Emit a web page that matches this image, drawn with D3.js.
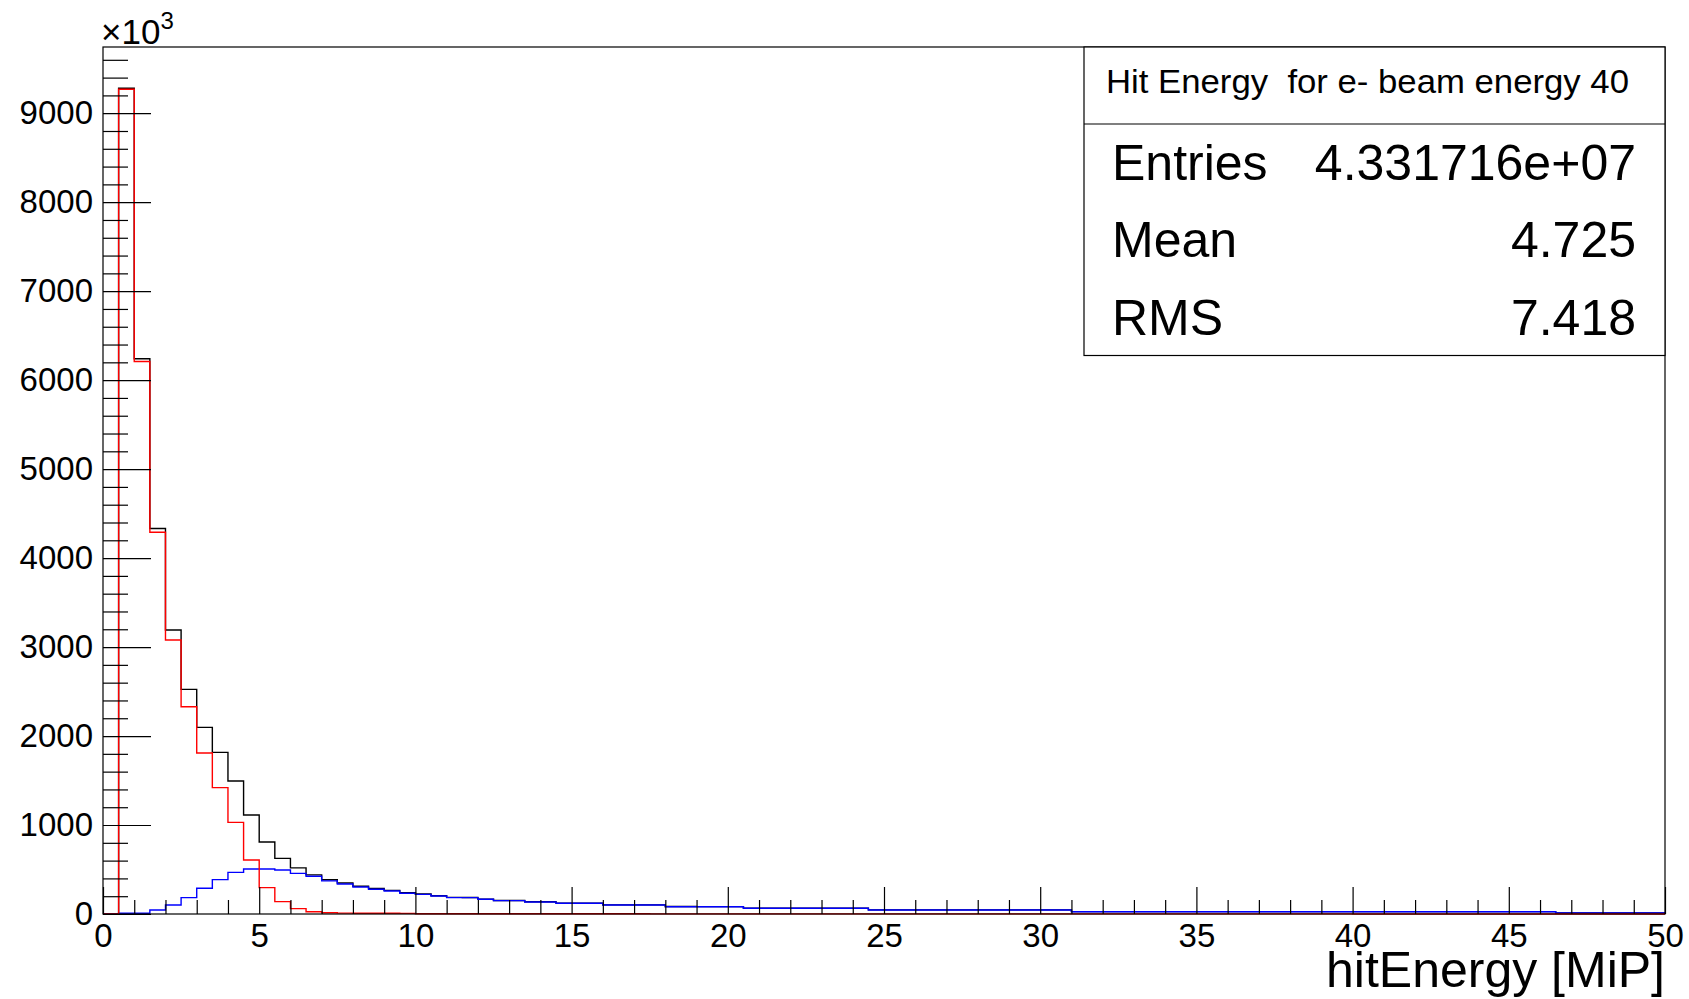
<!DOCTYPE html>
<html>
<head>
    <meta charset="UTF-8" />
    <title>hitEnergy</title>
    <script src="https://d3js.org/d3.v7.min.js"></script>
    <style>
	body { margin: 0; background: white; }
	text { font-family: "Liberation Sans", Arial, Helvetica, sans-serif; fill: #000; }
 	</style>
</head>

<body>
	<div id="chart"></div>

<script type="text/javascript">

	// histogram: 100 bins of 0.5 MiP from 0 to 50
	var binLow = 0, binWidth = 0.5, nBins = 100;

	// total (black)
	var totalHits = [0, 9280, 6240, 4333, 3191, 2525, 2097, 1817, 1494, 1112,
		810, 625, 518, 440, 385, 348, 312, 287, 266, 240,
		224, 205, 187, 186, 167, 152, 152, 137, 137, 122,
		122, 122, 103, 103, 103, 103, 84, 84, 83, 83,
		83, 66, 66, 66, 66, 66, 66, 66, 66, 46,
		46, 46, 46, 46, 46, 46, 46, 46, 46, 46,
		46, 46, 27, 27, 27, 27, 27, 27, 27, 27,
		27, 27, 27, 27, 27, 27, 27, 27, 27, 27,
		27, 27, 27, 27, 27, 27, 27, 27, 27, 27,
		27, 27, 27, 12, 12, 12, 12, 12, 12, 12]

	// red
	var redHits = [0, 9270, 6210, 4290, 3080, 2330, 1810, 1420, 1030, 607,
		296, 139, 60, 25, 14, 10, 9, 8, 8, 7,
		3, 3, 3, 2, 2, 2, 2, 2, 2, 2,
		2, 2, 2, 2, 2, 1, 1, 1, 1, 1,
		1, 1, 1, 1, 1, 1, 1, 1, 1, 1,
		1, 1, 1, 1, 1, 1, 1, 1, 1, 1,
		1, 1, 1, 1, 1, 1, 1, 1, 1, 1,
		1, 1, 1, 1, 1, 1, 1, 1, 1, 1,
		0, 0, 0, 0, 0, 0, 0, 0, 0, 0,
		0, 0, 0, 0, 0, 0, 0, 0, 0, 0]

	// blue
	var blueHits = [0, 8, 8, 45, 101, 184, 289, 386, 468, 506,
		506, 494, 457, 425, 372, 338, 303, 279, 258, 233,
		221, 202, 184, 184, 165, 150, 150, 135, 135, 120,
		120, 120, 101, 101, 101, 101, 82, 82, 82, 82,
		82, 65, 65, 65, 65, 65, 65, 65, 65, 45,
		45, 45, 45, 45, 45, 45, 45, 45, 45, 45,
		45, 45, 26, 26, 26, 26, 26, 26, 26, 26,
		26, 26, 26, 26, 26, 26, 26, 26, 26, 26,
		26, 26, 26, 26, 26, 26, 26, 26, 26, 26,
		26, 26, 26, 11, 11, 11, 11, 11, 11, 11]

	var xTicks = [0, 5, 10, 15, 20, 25, 30, 35, 40, 45, 50]
	var yTicks = [0, 1000, 2000, 3000, 4000, 5000, 6000, 7000, 8000, 9000]
	var yMax = 9744

	var statsTitle = "Hit Energy  for e- beam energy 40"
	var statsLabels = ["Entries", "Mean", "RMS"]
	var statsValues = ["4.331716e+07", "4.725", "7.418"]

	// frame in pixels
	var W = 1689, H = 999
	var margin = {top: 47, right: 24, bottom: 85, left: 103},
		width = W - margin.left - margin.right,
		height = H - margin.top - margin.bottom;

	var svg = d3.select("div#chart")
		.append("svg")
			.attr("width", W)
			.attr("height", H)
	svg.append("rect").attr("width", W).attr("height", H).attr("fill", "white")

	var g = svg.append("g")
		.attr("transform", "translate(" + margin.left + "," + margin.top + ")");

	var x = d3.scaleLinear().domain([0, 50]).range([0, width])
	var y = d3.scaleLinear().domain([0, yMax]).range([height, 0])

	// histograms as step lines
	var line = d3.line()
		.x(function(d) { return x(d[0]); })
		.y(function(d) { return y(d[1]); })
		.curve(d3.curveStepAfter)

	function steps(vals) {
		var pts = vals.map(function(v, i) { return [binLow + i * binWidth, v]; })
		pts.push([binLow + nBins * binWidth, vals[vals.length - 1]])
		return pts
	}

	var series = [[totalHits, "#000000"], [blueHits, "#0000ff"], [redHits, "#ff0000"]]
	series.forEach(function(s) {
		g.append("path")
			.attr("d", line(steps(s[0])))
			.attr("fill", "none")
			.attr("stroke", s[1])
			.attr("stroke-width", 1.4)
	})

	// X axis, ticks inward
	var xMinor = d3.range(0, 51, 1).filter(function(v) { return v % 5 != 0; })
	g.append("g")
		.attr("transform", "translate(0," + height + ")")
		.call(d3.axisBottom(x).tickValues(xMinor).tickSize(-14).tickFormat(""))
	g.append("g")
		.attr("class", "xmajor")
		.attr("transform", "translate(0," + height + ")")
		.call(d3.axisBottom(x).tickValues(xTicks).tickSize(-27).tickPadding(10).tickFormat(d3.format("d")))

	// Y axis
	var yMinor = d3.range(0, yMax, 200).filter(function(v) { return v % 1000 != 0; })
	g.append("g")
		.call(d3.axisLeft(y).tickValues(yMinor).tickSize(-25).tickFormat(""))
	g.append("g")
		.attr("class", "ymajor")
		.call(d3.axisLeft(y).tickValues(yTicks).tickSize(-48).tickPadding(10).tickFormat(d3.format("d")))

	g.selectAll(".domain").remove()
	g.selectAll(".tick line").attr("stroke", "#000").attr("stroke-width", 1.2)
	g.selectAll(".xmajor text, .ymajor text")
		.style("font-size", "33px")
		.style("font-family", '"Liberation Sans", Arial, sans-serif')
		.attr("fill", "#000")

	// frame
	g.append("rect")
		.attr("width", width)
		.attr("height", height)
		.attr("fill", "none")
		.attr("stroke", "#000")
		.attr("stroke-width", 1.2)

	// x10^3
	var mult = svg.append("text")
		.attr("x", margin.left - 2)
		.attr("y", 44)
		.style("font-size", "35px")
		.text("\u00d710")
	mult.append("tspan")
		.attr("dy", -15)
		.style("font-size", "24px")
		.text("3")

	// x axis title
	svg.append("text")
		.attr("x", margin.left + width)
		.attr("y", 987)
		.attr("text-anchor", "end")
		.style("font-size", "50px")
		.text("hitEnergy [MiP]")

	// stats box
	var boxL = 1084, boxT = margin.top, boxR = margin.left + width, boxB = 355.5, boxSep = 124
	svg.append("rect")
		.attr("x", boxL).attr("y", boxT)
		.attr("width", boxR - boxL).attr("height", boxB - boxT)
		.attr("fill", "white")
		.attr("stroke", "#000")
		.attr("stroke-width", 1.2)
	svg.append("line")
		.attr("x1", boxL).attr("x2", boxR)
		.attr("y1", boxSep).attr("y2", boxSep)
		.attr("stroke", "#000")
		.attr("stroke-width", 1.2)
	svg.append("text")
		.attr("x", 1106)
		.attr("y", 93)
		.style("font-size", "34px")
		.style("white-space", "pre")
		.attr("textLength", 523)
		.attr("lengthAdjust", "spacingAndGlyphs")
		.text(statsTitle)

	var rowY = [180, 257, 335]
	statsLabels.forEach(function(lab, i) {
		svg.append("text")
			.attr("x", 1112)
			.attr("y", rowY[i])
			.style("font-size", "50px")
			.text(lab)
		svg.append("text")
			.attr("x", 1636)
			.attr("y", rowY[i])
			.attr("text-anchor", "end")
			.style("font-size", "50px")
			.text(statsValues[i])
	})
</script>
</body>
</html>
